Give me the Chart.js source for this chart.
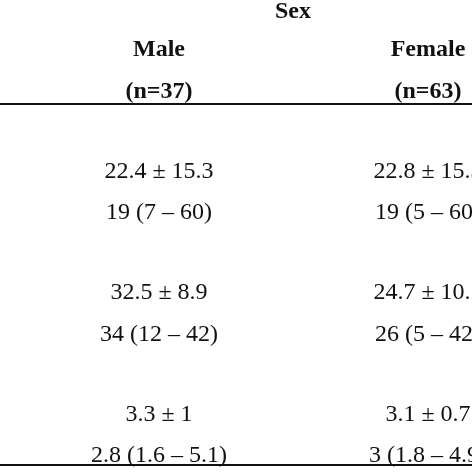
<!DOCTYPE html>
<html><head><meta charset="utf-8">
<script src="https://cdn.jsdelivr.net/npm/chart.js@4"></script>
<style>html,body{margin:0;padding:0;background:#fff}#w{width:472px;height:472px}</style>
</head><body><div id="w"><canvas id="c"></canvas></div>
<script>
const groupTitle = "Sex";
const columns = ["Male", "Female"];
const columnN = ["(n=37)", "(n=63)"];
const maleRows = ["22.4 ± 15.3", "19 (7 – 60)", "32.5 ± 8.9", "34 (12 – 42)", "3.3 ± 1", "2.8 (1.6 – 5.1)"];
const femaleRows = ["22.8 ± 15.3", "19 (5 – 60)", "24.7 ± 10.1", "26 (5 – 42)", "3.1 ± 0.7", "3 (1.8 – 4.9)"];
const rowY = [172, 213, 293, 335, 415, 456];
const colX = [159, 428];

const textPlugin = {
  id: 'tableText',
  afterDraw(chart) {
    const ctx = chart.ctx, xs = chart.scales.x, ys = chart.scales.y;
    const X = v => xs.getPixelForValue(v), Y = v => ys.getPixelForValue(v);
    ctx.save();
    ctx.fillStyle = '#111'; ctx.strokeStyle = '#111';
    ctx.textAlign = 'center'; ctx.textBaseline = 'middle';
    ctx.font = 'bold 24px "Liberation Serif", "DejaVu Serif", serif';
    ctx.fillText(groupTitle, X(293), Y(12));
    columns.forEach((c, i) => ctx.fillText(c, X(colX[i]), Y(50)));
    columnN.forEach((c, i) => ctx.fillText(c, X(colX[i]), Y(92)));
    ctx.lineWidth = 2;
    ctx.beginPath(); ctx.moveTo(X(0), Y(104)); ctx.lineTo(X(472), Y(104)); ctx.stroke();
    ctx.beginPath(); ctx.moveTo(X(0), Y(465)); ctx.lineTo(X(472), Y(465)); ctx.stroke();
    ctx.font = '24px "Liberation Serif", "DejaVu Serif", serif';
    maleRows.forEach((t, i) => ctx.fillText(t, X(colX[0]), Y(rowY[i])));
    femaleRows.forEach((t, i) => ctx.fillText(t, X(colX[1]), Y(rowY[i])));
    ctx.restore();
  }
};

new Chart(document.getElementById('c'), {
  type: 'scatter',
  data: { datasets: [{ data: [], pointRadius: 0 }] },
  options: {
    responsive: true, maintainAspectRatio: false, animation: false,
    layout: { padding: 0 },
    plugins: { legend: { display: false }, tooltip: { enabled: false } },
    scales: {
      x: { type: 'linear', min: 0, max: 472, display: false },
      y: { type: 'linear', min: 0, max: 472, reverse: true, display: false }
    }
  },
  plugins: [textPlugin]
});
</script></body></html>
